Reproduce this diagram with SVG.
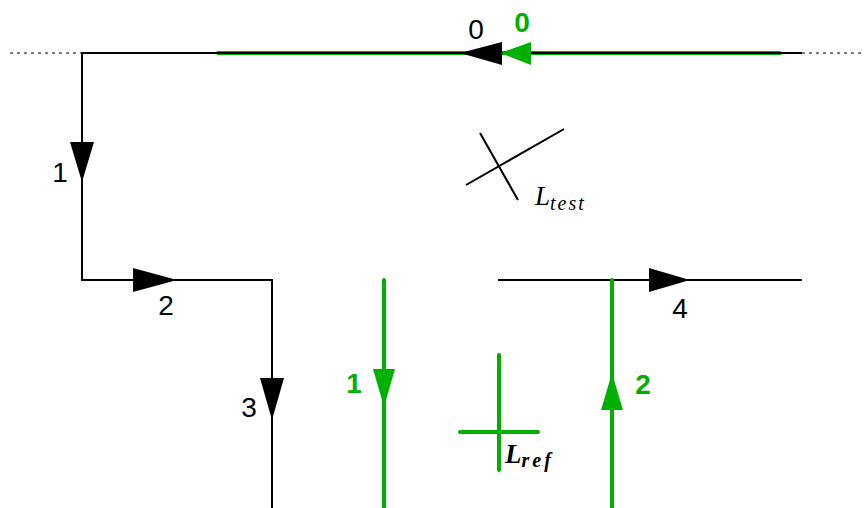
<svg xmlns="http://www.w3.org/2000/svg" width="864" height="508" viewBox="0 0 864 508">
<style>
.blk{stroke:#000;stroke-width:2;fill:none}
.grn{stroke:#00b000;stroke-width:4;fill:none;stroke-linecap:round}
.dot{stroke:#000;stroke-width:1;stroke-dasharray:3 4;fill:none}
.ab{fill:#000}
.ag{fill:#00b000}
.lb{font-family:"Liberation Sans",Arial,sans-serif;font-size:28px;fill:#000;text-anchor:middle}
.lg{font-family:"Liberation Sans",Arial,sans-serif;font-size:28px;font-weight:bold;fill:#00b000;text-anchor:middle}
.math{font-family:"Liberation Serif","Times New Roman",serif;font-style:italic;fill:#000}
</style>
<rect width="864" height="508" fill="#fff"/>
<g id="connectors">
<line class="dot" x1="10" y1="53" x2="82" y2="53"/>
<line class="dot" x1="802" y1="53" x2="864" y2="53"/>
<line class="grn" x1="218" y1="53" x2="780" y2="53"/>
<polyline class="blk" points="802,53 82,53 82,280 272,280 272,508"/>
<line class="blk" x1="498" y1="280" x2="802" y2="280"/>
<line class="grn" x1="384" y1="280" x2="384" y2="508"/>
<line class="grn" x1="612" y1="280" x2="612" y2="508"/>
<polygon class="ag" points="500,53 531,42 531,65"/>
<polygon class="ab" points="460,53 502,42 502,65"/>
<polygon class="ab" points="82,182 70,142 94,142"/>
<polygon class="ab" points="177,280 133,268 133,292"/>
<polygon class="ab" points="272,420 260,378 284,378"/>
<polygon class="ab" points="690,280 649,268 649,292"/>
<polygon class="ag" points="384,407 373,369 395,369"/>
<polygon class="ag" points="612,373 601,410 623,410"/>
</g>
<g id="labels">
<text class="lb" x="476" y="39">0</text>
<text class="lg" x="522" y="32">0</text>
<text class="lb" x="60" y="182">1</text>
<text class="lb" x="166" y="315">2</text>
<text class="lb" x="249" y="417">3</text>
<text class="lb" x="680" y="318">4</text>
<text class="lg" x="354" y="393">1</text>
<text class="lg" x="643" y="394">2</text>
</g>
<g id="Ltest">
<line class="blk" x1="466" y1="185" x2="564" y2="129"/>
<line class="blk" x1="480" y1="133" x2="518" y2="200"/>
<text class="math" x="535" y="205" font-size="27">L<tspan font-size="20" dy="5" letter-spacing="2">test</tspan></text>
</g>
<g id="Lref">
<line class="grn" x1="499" y1="355" x2="499" y2="470"/>
<line class="grn" x1="460" y1="432" x2="538" y2="432"/>
<text class="math" x="505" y="463" font-size="27" font-weight="bold">L<tspan font-size="20" dy="4" letter-spacing="3">ref</tspan></text>
</g>
</svg>
